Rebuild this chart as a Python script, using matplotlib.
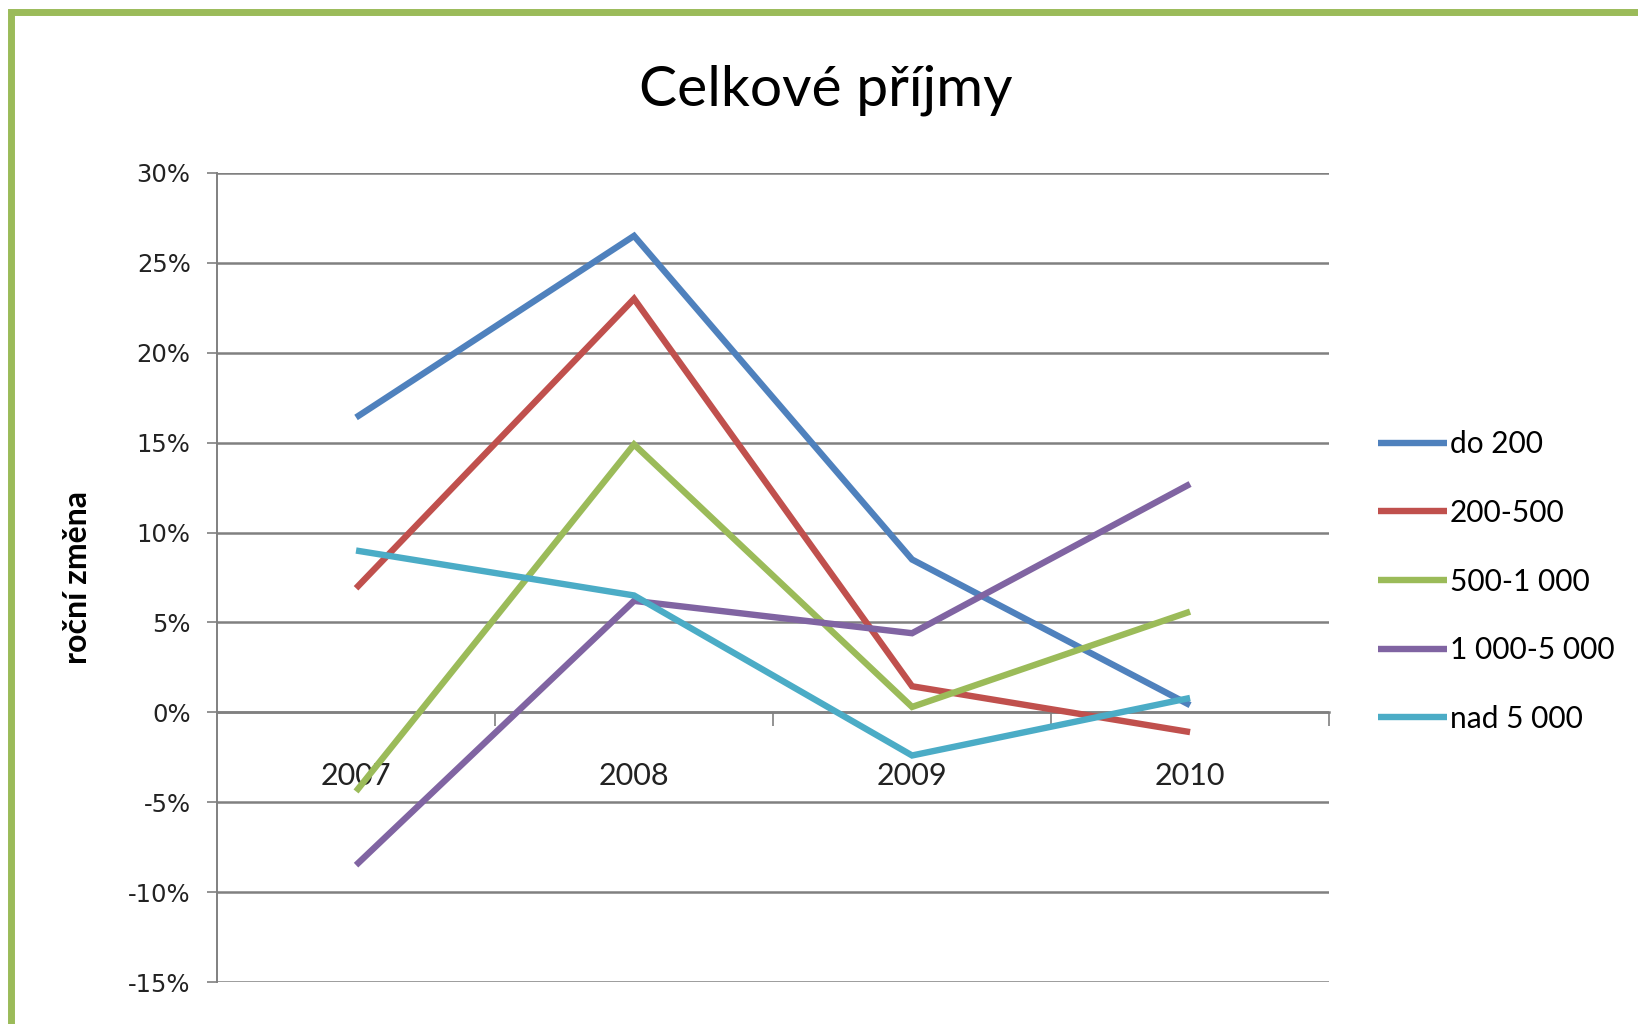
import numpy as np
import matplotlib.pyplot as plt
from matplotlib.patches import Rectangle

# data
roky = ['2007', '2008', '2009', '2010']
do_200 = [16.4, 26.5, 8.5, 0.4]
r200_500 = [6.9, 23.0, 1.45, -1.1]
r500_1000 = [-4.4, 14.9, 0.3, 5.6]
r1000_5000 = [-8.5, 6.2, 4.4, 12.7]
nad_5000 = [9.0, 6.5, -2.4, 0.8]

nazvy = ['do 200', '200-500', '500-1 000', '1 000-5 000', 'nad 5 000']
barvy = ['#4F81BD', '#C0504D', '#9BBB59', '#8064A2', '#4BACC6']

y_ticks = [30, 25, 20, 15, 10, 5, 0, -5, -10, -15]
y_labels = ['30%', '25%', '20%', '15%', '10%', '5%', '0%', '-5%', '-10%', '-15%']

fig = plt.figure(figsize=(16.38, 10.24), dpi=100)
ax = fig.add_axes([0.1325, 0.041, 0.8114 - 0.1325, 0.8311 - 0.041])

x = np.arange(len(roky))
for serie, nazev, barva in zip([do_200, r200_500, r500_1000, r1000_5000, nad_5000], nazvy, barvy):
    ax.plot(x, serie, color=barva, lw=4.6, label=nazev,
            solid_joinstyle='miter', solid_capstyle='butt', zorder=3)

ax.set_xlim(-0.5, 3.5)
ax.set_ylim(-15, 30)

# grid + axes
ax.set_yticks(y_ticks)
ax.set_yticklabels(y_labels, fontsize=17.5, family='DejaVu Sans', color='#222222')
ax.grid(axis='y', color='#808080', lw=1.8)
ax.tick_params(axis='y', length=7, width=1.2, color='#808080', pad=12)

for s in ['top', 'right']:
    ax.spines[s].set_visible(False)
ax.spines['left'].set_color('#808080')
ax.spines['left'].set_linewidth(1.4)
ax.spines['bottom'].set_position(('data', 0))
ax.spines['bottom'].set_color('#808080')
ax.spines['bottom'].set_linewidth(1.8)

ax.set_xticks(x)
ax.set_xticklabels(roky, fontsize=22, family='Lato', color='#222222')
ax.tick_params(axis='x', which='major', length=0, pad=36)
ax.set_xticks(list(x + 0.5), minor=True)
ax.tick_params(axis='x', which='minor', length=10, width=1.2, color='#808080', direction='out')

ax.set_ylabel('roční změna', fontsize=23, family='Lato', fontweight='bold')
ax.yaxis.set_label_coords(-0.112, 0.5)

fig.text(0.504, 0.912, 'Celkové příjmy', fontsize=41, family='Lato',
         ha='center', va='center')

leg = fig.legend(loc='upper left', bbox_to_anchor=(0.825, 0.606), frameon=False,
                 prop={'family': 'Lato', 'size': 21.5}, handlelength=2.3,
                 handletextpad=0.1, labelspacing=1.36)

# green frame around the chart
fig.patches.append(Rectangle((0.007, -0.2), 1.3, 0.9878 + 0.2, transform=fig.transFigure,
                             fill=False, edgecolor='#9BBB59', lw=5, clip_on=False))

fig.savefig('out.png', dpi=100)
